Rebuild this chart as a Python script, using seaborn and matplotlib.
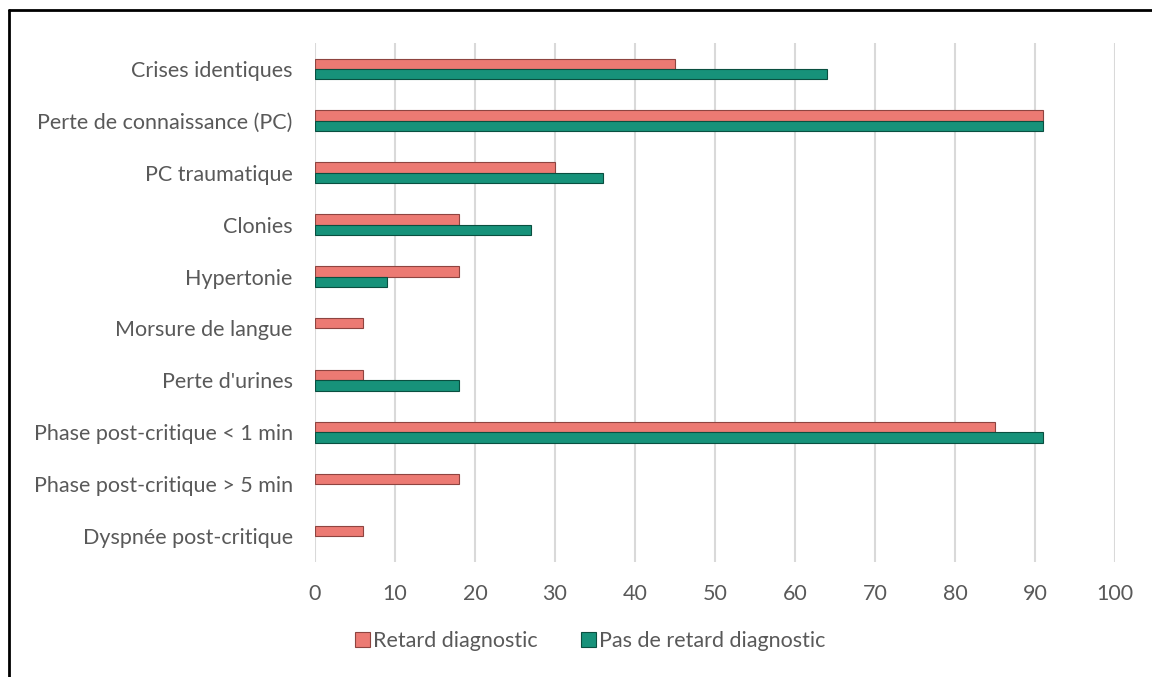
import matplotlib
matplotlib.use("Agg")
import matplotlib.pyplot as plt
import seaborn as sns
import pandas as pd
from matplotlib.patches import Patch
from matplotlib.lines import Line2D

categories = ["Crises identiques", "Perte de connaissance (PC)", "PC traumatique",
              "Clonies", "Hypertonie", "Morsure de langue", "Perte d'urines",
              "Phase post-critique < 1 min", "Phase post-critique > 5 min",
              "Dyspnée post-critique"]
retard = [45, 91, 30, 18, 18, 6, 6, 85, 18, 6]
pas_retard = [64, 91, 36, 27, 9, 0, 18, 91, 0, 0]
series_names = ["Retard diagnostic", "Pas de retard diagnostic"]
x_ticks = [0, 10, 20, 30, 40, 50, 60, 70, 80, 90, 100]

df = pd.DataFrame({
    "cat": categories * 2,
    "val": retard + pas_retard,
    "serie": [series_names[0]] * len(categories) + [series_names[1]] * len(categories),
})

sns.set_theme(style="white")
plt.rcParams['font.family'] = ['Lato', 'DejaVu Sans']

colors = {series_names[0]: "#EC7A73", series_names[1]: "#17927A"}
edges = {series_names[0]: "#8E4440", series_names[1]: "#0A4F40"}

fig = plt.figure(figsize=(11.52, 6.77), dpi=100)
ax = fig.add_axes([315 / 1152, 1 - 562 / 677, 800 / 1152, 519 / 677])

sns.barplot(data=df, y="cat", x="val", hue="serie", orient="h", ax=ax,
            palette=colors, width=0.4, dodge=True, legend=False,
            saturation=1, order=categories, hue_order=series_names, errorbar=None)

for container, name in zip(ax.containers, series_names):
    for bar in container:
        bar.set_edgecolor(edges[name])
        bar.set_linewidth(0.8 if bar.get_width() > 0 else 0)
        bar.set_zorder(3)

ax.set_xlim(0, 100)
ax.set_xticks(x_ticks)
ax.set_xlabel("")
ax.set_ylabel("")
ax.xaxis.grid(True, color="#D9D9D9", linewidth=1.5, zorder=0)
ax.set_axisbelow(True)
for s in ax.spines.values():
    s.set_visible(False)
ax.tick_params(axis="both", length=0, colors="#595959")
ax.tick_params(axis="x", pad=16, labelsize=15.5)
ax.tick_params(axis="y", pad=16, labelsize=15.5)

handles = [Patch(facecolor=colors[n], edgecolor=edges[n], linewidth=0.8) for n in series_names]
leg = fig.legend(handles, series_names, loc="center", bbox_to_anchor=(590 / 1152, 1 - 641 / 677),
                 ncol=2, frameon=False, fontsize=15.5, handlelength=0.7, handleheight=0.7,
                 handletextpad=0.15, columnspacing=2.0)
for t in leg.get_texts():
    t.set_color("#595959")

fig.add_artist(Line2D([9 / 1152, 1.0], [1 - 10 / 677, 1 - 10 / 677], color="black", lw=2,
                      transform=fig.transFigure))
fig.add_artist(Line2D([9 / 1152, 9 / 1152], [0, 1 - 10 / 677], color="black", lw=2,
                      transform=fig.transFigure))

fig.savefig("out.png", dpi=100)
